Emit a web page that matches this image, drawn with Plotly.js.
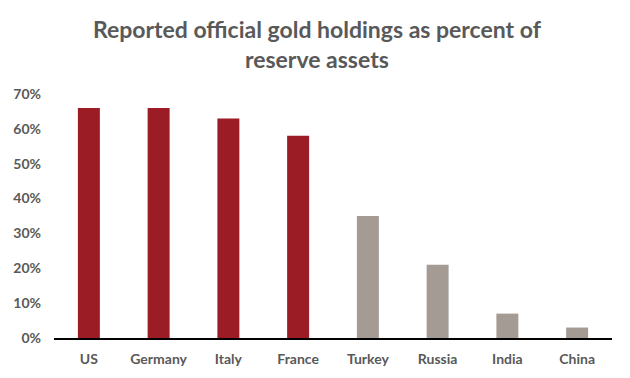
<!DOCTYPE html>
<html><head><meta charset="utf-8">
<script src="https://cdn.plot.ly/plotly-3.0.1.min.js"></script>
<style>html,body{margin:0;padding:0;background:#fff}</style>
</head><body><div id="chart" style="width:630px;height:378px"></div>
<script>
const countries = ["US","Germany","Italy","France","Turkey","Russia","India","China"];
const goldShare = [0.66,0.66,0.63,0.58,0.35,0.21,0.07,0.03];
const barColors = ["#9b1c24","#9b1c24","#9b1c24","#9b1c24","#a39b94","#a39b94","#a39b94","#a39b94"];
const yTicks = [0,0.1,0.2,0.3,0.4,0.5,0.6,0.7];
const yTickText = ["0%","10%","20%","30%","40%","50%","60%","70%"];

Plotly.newPlot("chart",[{
  type:"bar", x:countries, y:goldShare,
  marker:{color:barColors}, hoverinfo:"skip"
}],{
  width:630,height:378,
  margin:{l:54,r:18,t:94,b:40},
  paper_bgcolor:"#fff",plot_bgcolor:"#fff",
  bargap:0.685,
  font:{family:"Lato, 'Open Sans', sans-serif",color:"#595959"},
  title:{text:"<b>Reported official gold holdings as percent of<br>reserve assets</b>",
    font:{size:23,color:"#595959",family:"Lato, 'Open Sans', sans-serif"},
    x:0.503,xanchor:"center",y:0.899,yanchor:"top"},
  xaxis:{showline:true,linecolor:"#000",linewidth:2,ticks:"",ticklabelstandoff:7,
    tickfont:{size:14,color:"#595959",weight:"bold"},showgrid:false,zeroline:false},
  yaxis:{range:[0,0.7],tickvals:yTicks,ticktext:yTickText,showgrid:false,
    zeroline:false,showline:false,ticks:"",ticklen:0,ticklabelstandoff:12,
    tickfont:{size:14,color:"#595959",weight:"bold"}}
},{staticPlot:true,displayModeBar:false});
</script></body></html>
